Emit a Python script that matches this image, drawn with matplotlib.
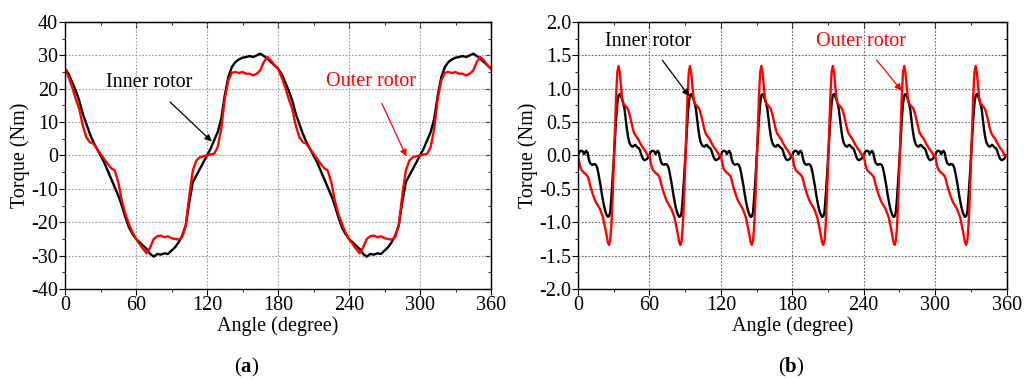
import numpy as np
import matplotlib
matplotlib.use('Agg')
import matplotlib.pyplot as plt
from matplotlib.ticker import MultipleLocator, FuncFormatter, NullFormatter

plt.rcParams['font.family'] = ['Liberation Serif', 'DejaVu Serif']
plt.rcParams['font.size'] = 14
plt.rcParams['mathtext.fontset'] = 'custom'
plt.rcParams['mathtext.rm'] = 'Liberation Serif'
plt.rcParams['mathtext.bf'] = 'Liberation Serif:bold'

# (a) one 180-degree period, every 3 degrees
step_a = 3
inner_a = [26.0, 24.5, 22.0, 19.5, 16.5, 12.5, 9.5, 6.5, 4.0, 2.0,
           0.0, -2.0, -4.5, -7.0, -9.5, -12.0, -15.0, -18.5, -21.5, -23.5,
           -25.0, -26.0, -27.0, -28.0, -29.5, -30.3, -29.5, -29.7, -29.3, -29.5,
           -28.5, -27.5, -26.0, -24.0, -21.0, -14.0, -8.0, -6.0, -4.0, -2.0,
           0.0, 2.0, 4.5, 7.0, 11.0, 18.0, 23.5, 26.5, 28.0, 28.8,
           29.3, 29.5, 29.8, 29.5, 30.0, 30.5, 29.8, 29.0, 28.0, 27.0]
outer_a = [26.0, 23.5, 20.5, 17.0, 14.0, 9.0, 5.5, 4.0, 3.5, 2.0,
           0.5, -1.0, -2.5, -3.8, -4.5, -8.0, -13.5, -17.5, -20.5, -23.0,
           -25.0, -26.5, -28.0, -29.3, -27.5, -25.0, -24.2, -24.0, -24.5, -24.2,
           -24.8, -25.0, -25.2, -24.5, -21.0, -12.0, -4.5, -1.5, -0.5, -0.2,
           0.0, 0.3, 0.5, 2.5, 8.0, 17.0, 22.5, 24.8, 25.0, 24.7,
           25.0, 24.5, 24.5, 24.0, 24.5, 25.5, 28.0, 29.5, 28.5, 27.0]

# (b) one 60-degree period, every 1 degree
step_b = 1
inner_b = [0.00, 0.05, 0.07, 0.07, 0.06, 0.02, 0.05, 0.07, 0.04, -0.05,
           -0.11, -0.13, -0.14, -0.13, -0.13, -0.14, -0.18, -0.26, -0.36, -0.46,
           -0.58, -0.68, -0.77, -0.84, -0.89, -0.92, -0.91, -0.85, -0.62, -0.35,
           -0.05, 0.25, 0.55, 0.78, 0.90, 0.92, 0.89, 0.84, 0.78, 0.70,
           0.55, 0.40, 0.28, 0.20, 0.16, 0.14, 0.13, 0.15, 0.16, 0.14,
           0.12, 0.11, 0.08, 0.02, -0.03, -0.06, -0.07, -0.06, -0.05, -0.02]
outer_b = [0.00, -0.10, -0.18, -0.22, -0.24, -0.26, -0.27, -0.29, -0.31, -0.36,
           -0.44, -0.50, -0.56, -0.61, -0.66, -0.70, -0.73, -0.76, -0.79, -0.83,
           -0.88, -0.93, -1.02, -1.10, -1.20, -1.30, -1.34, -1.28, -1.05, -0.65,
           -0.15, 0.40, 0.90, 1.25, 1.34, 1.25, 1.05, 0.86, 0.78, 0.76,
           0.74, 0.72, 0.69, 0.63, 0.56, 0.48, 0.40, 0.34, 0.31, 0.28,
           0.26, 0.23, 0.19, 0.16, 0.13, 0.10, 0.08, 0.05, 0.02, 0.00]


def full_turn(period, step):
    vals = np.tile(period, int(360 / (len(period) * step)))
    vals = np.append(vals, period[0])
    ang = np.arange(len(vals)) * step
    return ang, vals


def style(ax, ymin, ymax, ymaj, ymin_step, gridcol, fmt):
    ax.set_xlim(0, 360)
    ax.set_ylim(ymin, ymax)
    ax.xaxis.set_major_locator(MultipleLocator(60))
    ax.xaxis.set_minor_locator(MultipleLocator(30))
    ax.yaxis.set_major_locator(MultipleLocator(ymaj))
    ax.yaxis.set_minor_locator(MultipleLocator(ymin_step))
    ax.yaxis.set_major_formatter(FuncFormatter(fmt))
    ax.tick_params(which='both', direction='out')
    ax.tick_params(which='major', length=4, labelsize=14.5, pad=1)
    ax.tick_params(which='minor', length=2.5)
    ax.grid(True, which='major', color=gridcol, ls=(0, (1.5, 1.5)), lw=0.8)
    ax.set_xlabel('Angle (degree)', fontsize=14.5, labelpad=1)
    ax.set_ylabel('Torque (Nm)', fontsize=14.5, labelpad=1)
    for s in ax.spines.values():
        s.set_linewidth(1.0)
    # inward ticks on the top and right frame
    top = ax.secondary_xaxis('top')
    top.xaxis.set_major_locator(MultipleLocator(60))
    top.xaxis.set_minor_locator(MultipleLocator(30))
    top.xaxis.set_major_formatter(NullFormatter())
    top.tick_params(which='both', direction='in')
    top.tick_params(which='major', length=4)
    top.tick_params(which='minor', length=2.5)
    right = ax.secondary_yaxis('right')
    right.yaxis.set_major_locator(MultipleLocator(ymaj))
    right.yaxis.set_minor_locator(MultipleLocator(ymin_step))
    right.yaxis.set_major_formatter(NullFormatter())
    right.tick_params(which='both', direction='in')
    right.tick_params(which='major', length=4)
    right.tick_params(which='minor', length=2.5)


fig = plt.figure(figsize=(10.24, 3.83), dpi=100)
ax1 = fig.add_axes([0.0635, 0.2454, 0.416, 0.6972])
ax2 = fig.add_axes([0.5645, 0.2454, 0.4185, 0.6972])

ang, v = full_turn(inner_a, step_a)
ax1.plot(ang, v, color='black', lw=1.7)
ang, v = full_turn(outer_a, step_a)
ax1.plot(ang, v, color='#ff0000', lw=1.7)
style(ax1, -40, 40, 10, 5, '#999999', lambda x, p: '%d' % x)

ax1.annotate('Inner rotor', xy=(124, 4.2), xytext=(71, 22), color='black',
             ha='center', va='center', fontsize=14.5,
             arrowprops=dict(arrowstyle='-|>', color='black', lw=0.9,
                             shrinkA=8, shrinkB=0, mutation_scale=10))
ax1.annotate('Outer rotor', xy=(288.5, -0.3), xytext=(259, 22.3), color='#ff0000',
             ha='center', va='center', fontsize=14.5,
             arrowprops=dict(arrowstyle='-|>', color='#ff0000', lw=0.9,
                             shrinkA=8, shrinkB=0, mutation_scale=10))

ang, v = full_turn(inner_b, step_b)
ax2.plot(ang, v, color='black', lw=1.7)
ang, v = full_turn(outer_b, step_b)
ax2.plot(ang, v, color='#ff0000', lw=1.7)
style(ax2, -2, 2, 0.5, 0.25, '#666666', lambda x, p: '%.1f' % x)

ax2.annotate('Inner rotor', xy=(93.3, 0.89), xytext=(59, 1.71), color='black',
             ha='center', va='center', fontsize=14.5,
             arrowprops=dict(arrowstyle='-|>', color='black', lw=0.9,
                             shrinkA=6, shrinkB=0, mutation_scale=10))
ax2.annotate('Outer rotor', xy=(271.8, 0.97), xytext=(238, 1.71), color='#ff0000',
             ha='center', va='center', fontsize=14.5,
             arrowprops=dict(arrowstyle='-|>', color='#ff0000', lw=0.9,
                             shrinkA=6, shrinkB=0, mutation_scale=10))

fig.text(247 / 1024, 1 - 367 / 383, r'($\mathbf{a}$)', ha='center', va='center', fontsize=15)
fig.text(791 / 1024, 1 - 367 / 383, r'($\mathbf{b}$)', ha='center', va='center', fontsize=15)

fig.savefig('out.png', dpi=100)
